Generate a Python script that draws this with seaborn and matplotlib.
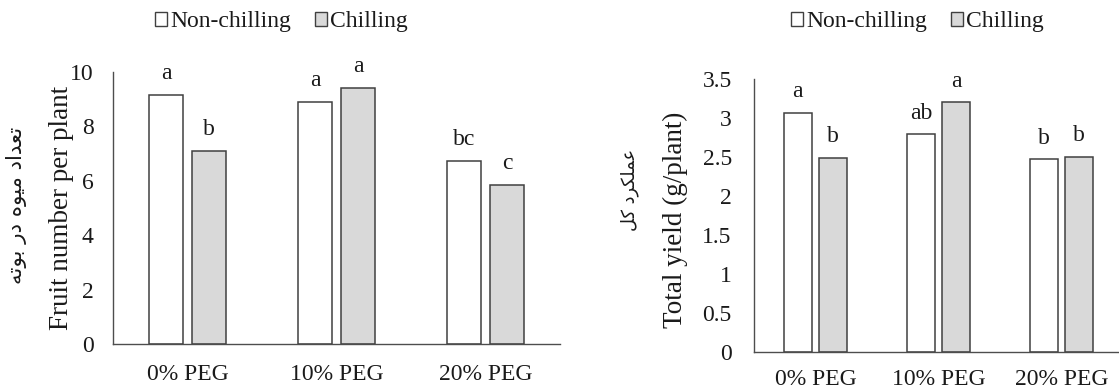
import numpy as np
import pandas as pd
import matplotlib
matplotlib.use("Agg")
import matplotlib.pyplot as plt
import seaborn as sns
from matplotlib.patches import Patch

# ---------------- data ----------------
treatments = ["0% PEG", "10% PEG", "20% PEG"]
conditions = ["Non-chilling", "Chilling"]

fruit_nonchill = [9.15, 8.90, 6.72]
fruit_chill = [7.10, 9.40, 5.85]
fruit_letters_nonchill = ["a", "a", "bc"]
fruit_letters_chill = ["b", "a", "c"]

yield_nonchill = [3.07, 2.79, 2.47]
yield_chill = [2.49, 3.20, 2.50]
yield_letters_nonchill = ["a", "ab", "b"]
yield_letters_chill = ["b", "a", "b"]

fruit_ylabel = "Fruit number per plant"
fruit_ylabel_fa = "تعداد میوه در بوته"
yield_ylabel = "Total yield (g/plant)"
yield_ylabel_fa = "عملکرد کل"

fruit_yticks = [0, 2, 4, 6, 8, 10]
yield_yticks = [0, 0.5, 1, 1.5, 2, 2.5, 3, 3.5]
yield_yticklabels = ["0", "0.5", "1", "1.5", "2", "2.5", "3", "3.5"]

# ------------- Persian shaping (matplotlib has no complex text layout) -------------
FORMS = {  # isolated, final, initial, medial
    "ا": ("\uFE8D", "\uFE8E", None, None),
    "ب": ("\uFE8F", "\uFE90", "\uFE91", "\uFE92"),
    "ت": ("\uFE95", "\uFE96", "\uFE97", "\uFE98"),
    "د": ("\uFEA9", "\uFEAA", None, None),
    "ر": ("\uFEAD", "\uFEAE", None, None),
    "ع": ("\uFEC9", "\uFECA", "\uFECB", "\uFECC"),
    "ل": ("\uFEDD", "\uFEDE", "\uFEDF", "\uFEE0"),
    "م": ("\uFEE1", "\uFEE2", "\uFEE3", "\uFEE4"),
    "ه": ("\uFEE9", "\uFEEA", "\uFEEB", "\uFEEC"),
    "و": ("\uFEED", "\uFEEE", None, None),
    "ی": ("\uFBFC", "\uFBFD", "\uFBFE", "\uFBFF"),
    "ک": ("\uFB8E", "\uFB8F", "\uFB90", "\uFB91"),
}


def shape_fa(s):
    out = []
    for i, c in enumerate(s):
        if c not in FORMS:
            out.append(c)
            continue
        prev = s[i - 1] if i > 0 else None
        nxt = s[i + 1] if i + 1 < len(s) else None
        join_prev = prev in FORMS and FORMS[prev][2] is not None
        join_next = FORMS[c][2] is not None and nxt in FORMS
        iso, fin, ini, med = FORMS[c]
        if join_prev and join_next:
            out.append(med)
        elif join_prev:
            out.append(fin)
        elif join_next:
            out.append(ini)
        else:
            out.append(iso)
    return "".join(reversed(out))


# ---------------- style ----------------
sns.set_theme(style="white")
plt.rcParams["font.family"] = ["Liberation Serif", "DejaVu Sans"]
plt.rcParams["axes.edgecolor"] = "#4d4d4d"
plt.rcParams["axes.linewidth"] = 1.0

W, H = 1119, 392
fig = plt.figure(figsize=(W / 100, H / 100), dpi=100)
fig.patch.set_facecolor("white")

FS = 17
TXT = "#1a1a1a"
palette = {"Non-chilling": "#ffffff", "Chilling": "#d9d9d9"}
EDGE = "#404040"


def make_df(nonchill, chill):
    return pd.DataFrame({
        "treatment": treatments * 2,
        "condition": [conditions[0]] * 3 + [conditions[1]] * 3,
        "value": list(nonchill) + list(chill),
    })


def panel(ax, nonchill, chill, lets_n, lets_c, ylim, yticks, yticklabels, ypad, xpad):
    df = make_df(nonchill, chill)
    sns.barplot(data=df, x="treatment", y="value", hue="condition",
                order=treatments, hue_order=conditions, palette=palette,
                edgecolor=EDGE, linewidth=1.1, width=0.575, gap=0.22,
                errorbar=None, legend=False, ax=ax)
    for cont, lets in zip(ax.containers, [lets_n, lets_c]):
        ax.bar_label(cont, labels=lets, padding=7.8, fontsize=FS, color=TXT)
    ax.set_xlim(-0.5, 2.5)
    ax.set_ylim(*ylim)
    ax.set_yticks(yticks)
    ax.set_yticklabels(yticklabels)
    ax.set_xlabel("")
    ax.set_ylabel("")
    ax.tick_params(axis="both", length=0, labelsize=FS, colors=TXT)
    ax.tick_params(axis="y", pad=ypad)
    ax.tick_params(axis="x", pad=xpad)
    for s in ["top", "right"]:
        ax.spines[s].set_visible(False)
    ax.set_facecolor("none")


ax1 = fig.add_axes([113 / W, (H - 344) / H, (560 - 113) / W, (344 - 72) / H])
panel(ax1, fruit_nonchill, fruit_chill, fruit_letters_nonchill, fruit_letters_chill,
      (0, 10), fruit_yticks, [str(t) for t in fruit_yticks], 14, 14.5)

ax2 = fig.add_axes([754 / W, (H - 352) / H, 369 / W, (352 - 79) / H])
panel(ax2, yield_nonchill, yield_chill, yield_letters_nonchill, yield_letters_chill,
      (0, 3.5), yield_yticks, yield_yticklabels, 16, 12.5)

# y labels (English + Persian)
fig.text(62 / W, 1 - 208 / H, fruit_ylabel, rotation=90, ha="center", va="center",
         fontsize=19.5, color=TXT)
fig.text(17 / W, 1 - 205 / H, shape_fa(fruit_ylabel_fa), rotation=90, ha="center",
         va="center", fontsize=15.4, family=["DejaVu Sans"], color=TXT)
fig.text(675 / W, 1 - 220 / H, yield_ylabel, rotation=90, ha="center", va="center",
         fontsize=19.5, color=TXT)
fig.text(630 / W, 1 - 190 / H, shape_fa(yield_ylabel_fa), rotation=90, ha="center",
         va="center", fontsize=12.8, family=["DejaVu Sans"], color=TXT)

# legends
handles = [Patch(facecolor=palette[c], edgecolor=EDGE, linewidth=1.0, label=c) for c in conditions]
for cx in (281.5, 917.5):
    fig.legend(handles=handles, loc="center", bbox_to_anchor=(cx / W, 1 - 22 / H),
               ncol=2, frameon=False, fontsize=FS, handlelength=0.5, handleheight=0.5,
               handletextpad=0.15, columnspacing=1.0, borderaxespad=0, borderpad=0,
               labelcolor=TXT)

fig.savefig("out.png", dpi=100, facecolor="white")
